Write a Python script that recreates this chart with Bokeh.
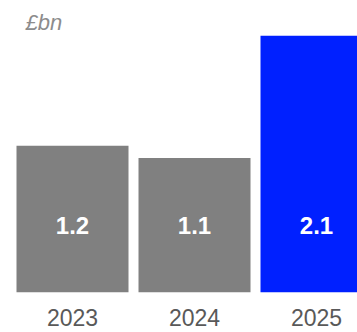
from bokeh.plotting import figure
from bokeh.models import Range1d, FixedTicker, ColumnDataSource, LabelSet
from bokeh.core.properties import value
from bokeh.embed import file_html
from bokeh.resources import INLINE

years = ["2023", "2024", "2025"]
values = [1.2, 1.1, 2.1]
colors = ["#808080", "#808080", "#0020FF"]
labels = ["1.2", "1.1", "2.1"]
unit_label = "£bn"

xs = list(range(len(years)))
src = ColumnDataSource(dict(x=xs, top=values, color=colors, label=labels,
                            ly=[0.55] * len(xs)))

p = figure(width=357, height=332, output_backend="svg", toolbar_location=None,
           x_range=Range1d(-0.5, 2.336), y_range=Range1d(0, 2.1),
           min_border_left=11, min_border_right=0, min_border_top=35,
           min_border_bottom=40, y_axis_location=None)
p.title.text = unit_label
p.title.text_font = "Liberation Sans"
p.title.text_font_style = "italic"
p.title.text_font_size = "22px"
p.title.text_color = "#8c8c8c"
p.title.offset = 14
p.title.standoff = 1

p.vbar(x="x", top="top", bottom=0, width=0.918, fill_color="color",
       line_color=None, source=src)

lab = LabelSet(x="x", y="ly", text="label", source=src, text_align="center",
               text_baseline="middle", text_color="white",
               text_font=value("Liberation Sans"), text_font_style="bold",
               text_font_size="24px")
p.add_layout(lab)

p.xaxis.ticker = FixedTicker(ticks=xs)
p.xaxis.major_label_overrides = {i: y for i, y in zip(xs, years)}
p.xaxis.major_label_text_font = "Liberation Sans"
p.xaxis.major_label_text_font_size = "23px"
p.xaxis.major_label_text_color = "#595959"
p.xaxis.axis_line_color = None
p.xaxis.major_tick_line_color = None
p.xaxis.minor_tick_line_color = None
p.xaxis.major_label_standoff = 10
p.xgrid.visible = False
p.ygrid.visible = False
p.outline_line_color = None
p.background_fill_color = "white"
p.border_fill_color = "white"

open("out.html", "w").write(file_html(p, INLINE))
